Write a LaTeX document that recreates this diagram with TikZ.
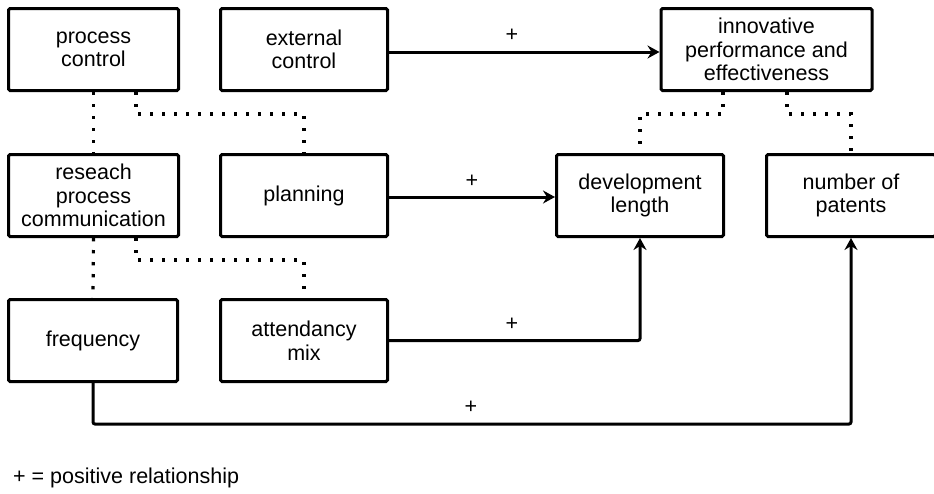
\documentclass[tikz,border=0pt]{standalone}
\usepackage{fontspec}
\setmainfont{Liberation Sans}
\usetikzlibrary{arrows.meta}
\begin{document}
\begin{tikzpicture}[x=1pt,y=-1pt,
  box/.style={draw, line width=3pt, rounded corners=1.5pt, align=center,
    minimum height=82pt, inner sep=0pt,
    font=\fontsize{21.5}{23.5}\selectfont},
  link/.style={line width=3pt, rounded corners=2pt,
    -{Stealth[length=12pt,width=13pt,inset=4pt]}},
  assoc/.style={line width=3.2pt, line cap=butt, dash pattern=on 3.4pt off 8.6pt},
  sign/.style={font=\fontsize{21.5}{23.5}\selectfont, inner sep=0pt}]
\useasboundingbox (0,0) rectangle (934,493);

% boxes
\node[box, minimum width=170pt] (pc)  at (93.5,49.5)  {process\\control};
\node[box, minimum width=167pt] (ec)  at (304,49.5)   {external\\control};
\node[box, minimum width=211pt] (inn) at (766.5,49.5) {innovative\\performance and\\effectiveness};
\node[box, minimum width=170pt] (rpc) at (93.5,195.5) {reseach\\process\\communication};
\node[box, minimum width=167pt] (pl)  at (304,195.5)  {planning};
\node[box, minimum width=167pt] (dl)  at (640,195.5)  {development\\length};
\node[box, minimum width=169pt] (np)  at (851,195.5)  {number of\\patents};
\node[box, minimum width=169pt] (fr)  at (93,340.5)   {frequency};
\node[box, minimum width=167pt] (am)  at (304,340.5)  {attendancy\\mix};

% associations (dotted)
\draw[assoc] (pc.south) -- (rpc.north);
\draw[assoc] ([xshift=42.5pt]pc.south) -- ++(0,22) -| (pl.north);
\draw[assoc] (rpc.south) -- (fr.north);
\draw[assoc] ([xshift=42.5pt]rpc.south) -- ++(0,22) -| (am.north);
\draw[assoc] ([xshift=-43.5pt]inn.south) -- ++(0,22) -| (dl.north);
\draw[assoc] ([xshift=20.5pt]inn.south) -- ++(0,22) -| (np.north);

% positive relationships
\draw[link] ([yshift=-2.5pt]ec.east) -- ([yshift=-2.5pt]ec.east -| inn.west);
\draw[link] ([yshift=-1.5pt]pl.east) -- ([yshift=-1.5pt]pl.east -| dl.west);
\draw[link] (am.east) -| (dl.south);
\draw[link] (fr.south) -- ++(0,41) -| (np.south);

\node[sign] (s1) at (512,35)  {+};
\node[sign] (s2) at (472,181) {+};
\node[sign] (s3) at (512,324) {+};
\node[sign] (s4) at (471,407) {+};

% key
\node[sign, anchor=west] (key) at (13,478) {+ = positive relationship};
\end{tikzpicture}
\end{document}
